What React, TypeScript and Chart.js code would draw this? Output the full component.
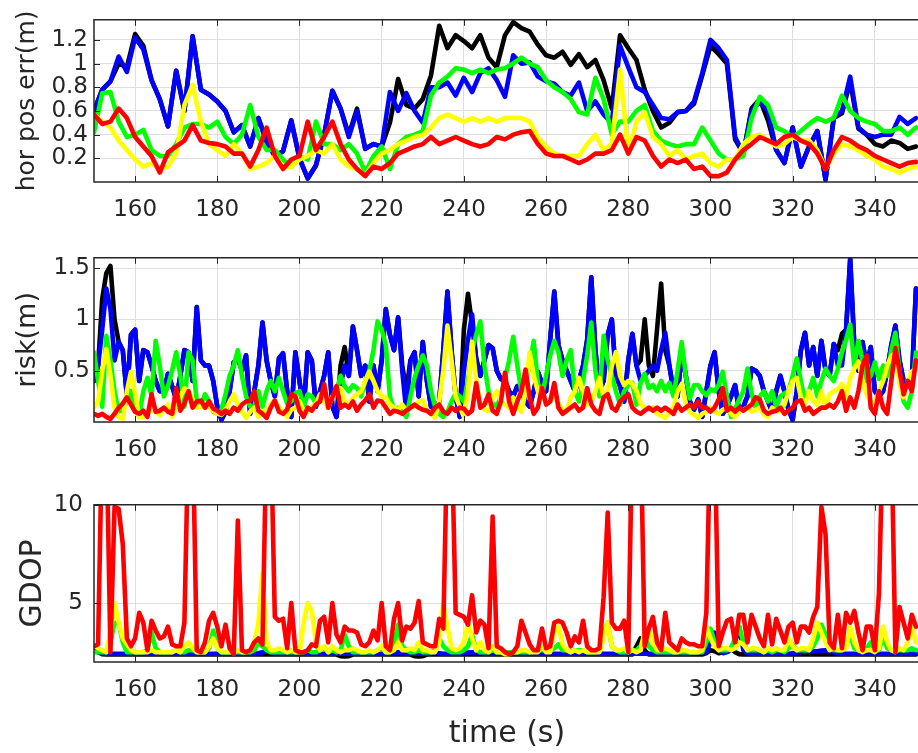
import React, { useEffect, useRef } from 'react';
import { Chart, registerables } from 'chart.js';

Chart.register(...registerables);

// ---------- categories / ticks ----------
const TIME_2S = [
  150, 152, 154, 156, 158, 160, 162, 164, 166, 168,
  170, 172, 174, 176, 178, 180, 182, 184, 186, 188,
  190, 192, 194, 196, 198, 200, 202, 204, 206, 208,
  210, 212, 214, 216, 218, 220, 222, 224, 226, 228,
  230, 232, 234, 236, 238, 240, 242, 244, 246, 248,
  250, 252, 254, 256, 258, 260, 262, 264, 266, 268,
  270, 272, 274, 276, 278, 280, 282, 284, 286, 288,
  290, 292, 294, 296, 298, 300, 302, 304, 306, 308,
  310, 312, 314, 316, 318, 320, 322, 324, 326, 328,
  330, 332, 334, 336, 338, 340, 342, 344, 346, 348,
  350,
];

const TIME_1S = [
  150, 151, 152, 153, 154, 155, 156, 157, 158, 159,
  160, 161, 162, 163, 164, 165, 166, 167, 168, 169,
  170, 171, 172, 173, 174, 175, 176, 177, 178, 179,
  180, 181, 182, 183, 184, 185, 186, 187, 188, 189,
  190, 191, 192, 193, 194, 195, 196, 197, 198, 199,
  200, 201, 202, 203, 204, 205, 206, 207, 208, 209,
  210, 211, 212, 213, 214, 215, 216, 217, 218, 219,
  220, 221, 222, 223, 224, 225, 226, 227, 228, 229,
  230, 231, 232, 233, 234, 235, 236, 237, 238, 239,
  240, 241, 242, 243, 244, 245, 246, 247, 248, 249,
  250, 251, 252, 253, 254, 255, 256, 257, 258, 259,
  260, 261, 262, 263, 264, 265, 266, 267, 268, 269,
  270, 271, 272, 273, 274, 275, 276, 277, 278, 279,
  280, 281, 282, 283, 284, 285, 286, 287, 288, 289,
  290, 291, 292, 293, 294, 295, 296, 297, 298, 299,
  300, 301, 302, 303, 304, 305, 306, 307, 308, 309,
  310, 311, 312, 313, 314, 315, 316, 317, 318, 319,
  320, 321, 322, 323, 324, 325, 326, 327, 328, 329,
  330, 331, 332, 333, 334, 335, 336, 337, 338, 339,
  340, 341, 342, 343, 344, 345, 346, 347, 348, 349,
  350,
];

const X_TICKS = [160, 180, 200, 220, 240, 260, 280, 300, 320, 340];
const X_TICK_LABELS = ['160', '180', '200', '220', '240', '260', '280', '300', '320', '340'];
const POS_TICKS = [0.2, 0.4, 0.6, 0.8, 1, 1.2];
const POS_TICK_LABELS = ['0.2', '0.4', '0.6', '0.8', '1', '1.2'];
const RISK_TICKS = [0.5, 1, 1.5];
const RISK_TICK_LABELS = ['0.5', '1', '1.5'];
const GDOP_TICKS = [5, 10];
const GDOP_TICK_LABELS = ['5', '10'];

// ---------- horizontal position error (m), every 2 s ----------
const POS_BLACK = [
  0.60, 0.78, 0.85, 1.00, 0.97, 1.25, 1.15, 0.86, 0.70, 0.47,
  0.94, 0.60, 1.23, 0.78, 0.74, 0.68, 0.60, 0.42, 0.48, 0.30,
  0.54, 0.35, 0.22, 0.26, 0.52, 0.20, 0.03, 0.14, 0.40, 0.77,
  0.62, 0.40, 0.62, 0.28, 0.32, 0.30, 0.50, 0.87, 0.65, 0.62,
  0.70, 0.90, 1.32, 1.13, 1.24, 1.19, 1.13, 1.24, 1.05, 0.97,
  1.24, 1.35, 1.30, 1.27, 1.16, 1.07, 1.05, 1.10, 0.99, 1.08,
  0.97, 1.03, 0.86, 0.62, 1.24, 1.13, 1.03, 0.78, 0.60, 0.46,
  0.50, 0.59, 0.60, 0.66, 0.90, 1.15, 1.08, 1.00, 0.36, 0.24,
  0.62, 0.70, 0.52, 0.27, 0.16, 0.46, 0.13, 0.30, 0.43, 0.02,
  0.54, 0.58, 0.85, 0.45, 0.40, 0.32, 0.30, 0.35, 0.33, 0.28,
  0.30,
];
const POS_BLUE = [
  0.60, 0.78, 0.85, 1.06, 0.93, 1.22, 1.12, 0.86, 0.70, 0.47,
  0.94, 0.60, 1.23, 0.78, 0.74, 0.68, 0.60, 0.42, 0.48, 0.30,
  0.54, 0.33, 0.22, 0.26, 0.52, 0.20, 0.03, 0.14, 0.40, 0.77,
  0.62, 0.38, 0.60, 0.28, 0.32, 0.30, 0.76, 0.60, 0.75, 0.60,
  0.50, 0.80, 0.80, 0.84, 0.73, 0.88, 0.76, 0.92, 0.96, 0.86,
  0.72, 1.07, 1.00, 1.01, 0.89, 0.85, 0.83, 0.76, 0.73, 0.84,
  0.60, 0.68, 0.57, 0.50, 1.15, 0.97, 0.80, 0.76, 0.65, 0.54,
  0.53, 0.59, 0.60, 0.68, 0.92, 1.20, 1.13, 1.03, 0.38, 0.24,
  0.60, 0.68, 0.60, 0.27, 0.16, 0.46, 0.13, 0.30, 0.43, 0.02,
  0.54, 0.60, 0.89, 0.46, 0.40, 0.38, 0.40, 0.40, 0.55, 0.49,
  0.54,
];
const POS_GREEN = [
  0.42, 0.75, 0.76, 0.51, 0.38, 0.40, 0.44, 0.27, 0.22, 0.22,
  0.32, 0.46, 0.49, 0.49, 0.46, 0.51, 0.38, 0.32, 0.40, 0.65,
  0.38, 0.27, 0.27, 0.19, 0.13, 0.22, 0.19, 0.51, 0.32, 0.32,
  0.27, 0.32, 0.24, 0.08, 0.22, 0.30, 0.11, 0.32, 0.38, 0.40,
  0.43, 0.73, 0.84, 0.89, 0.96, 0.95, 0.92, 0.95, 0.92, 0.95,
  0.96, 1.00, 1.05, 1.00, 0.97, 0.86, 0.80, 0.76, 0.70, 0.59,
  0.57, 0.88, 0.70, 0.40, 0.51, 0.51, 0.60, 0.65, 0.43, 0.35,
  0.32, 0.30, 0.32, 0.32, 0.46, 0.35, 0.24, 0.19, 0.19, 0.22,
  0.54, 0.72, 0.65, 0.46, 0.43, 0.38, 0.43, 0.49, 0.54, 0.51,
  0.54, 0.73, 0.60, 0.54, 0.51, 0.49, 0.43, 0.43, 0.46, 0.40,
  0.46,
];
const POS_YELLOW = [
  0.57, 0.51, 0.46, 0.35, 0.27, 0.19, 0.13, 0.16, 0.11, 0.13,
  0.24, 0.65, 0.82, 0.51, 0.32, 0.27, 0.22, 0.32, 0.24, 0.11,
  0.13, 0.16, 0.22, 0.13, 0.13, 0.19, 0.22, 0.27, 0.24, 0.32,
  0.19, 0.13, 0.11, 0.05, 0.16, 0.24, 0.27, 0.32, 0.35, 0.38,
  0.40, 0.46, 0.54, 0.57, 0.54, 0.51, 0.54, 0.51, 0.54, 0.51,
  0.54, 0.54, 0.54, 0.51, 0.38, 0.30, 0.24, 0.22, 0.22, 0.22,
  0.32, 0.40, 0.27, 0.32, 0.95, 0.24, 0.51, 0.59, 0.38, 0.32,
  0.22, 0.27, 0.19, 0.22, 0.24, 0.16, 0.13, 0.19, 0.19, 0.32,
  0.38, 0.40, 0.35, 0.30, 0.32, 0.38, 0.35, 0.35, 0.27, 0.11,
  0.24, 0.32, 0.30, 0.27, 0.22, 0.19, 0.13, 0.11, 0.08, 0.11,
  0.13,
];
const POS_RED = [
  0.57, 0.49, 0.51, 0.62, 0.54, 0.38, 0.30, 0.22, 0.08, 0.25,
  0.30, 0.35, 0.48, 0.35, 0.33, 0.32, 0.30, 0.24, 0.24, 0.13,
  0.27, 0.46, 0.22, 0.11, 0.19, 0.22, 0.51, 0.27, 0.38, 0.51,
  0.32, 0.19, 0.11, 0.05, 0.13, 0.11, 0.16, 0.24, 0.27, 0.30,
  0.32, 0.38, 0.32, 0.35, 0.38, 0.35, 0.32, 0.30, 0.32, 0.38,
  0.36, 0.40, 0.42, 0.43, 0.32, 0.24, 0.22, 0.22, 0.19, 0.16,
  0.19, 0.24, 0.24, 0.27, 0.40, 0.24, 0.38, 0.35, 0.22, 0.13,
  0.19, 0.16, 0.19, 0.11, 0.13, 0.05, 0.05, 0.08, 0.19, 0.27,
  0.32, 0.38, 0.35, 0.32, 0.38, 0.40, 0.35, 0.32, 0.24, 0.11,
  0.27, 0.38, 0.35, 0.30, 0.27, 0.22, 0.19, 0.16, 0.13, 0.16,
  0.17,
];

// ---------- risk (m), every 1 s ----------
const RISK_BLACK = [
  0.40, 0.55, 1.20, 1.45, 1.52, 1.00, 0.78, 0.70, 0.25, 0.85,
  0.90, 0.40, 0.70, 0.68, 0.55, 0.40, 0.30, 0.30, 0.47, 0.35,
  0.22, 0.45, 0.70, 0.68, 0.40, 1.12, 0.60, 0.55, 0.55, 0.40,
  0.15, 0.02, 0.10, 0.30, 0.58, 0.62, 0.50, 0.65, 0.08, 0.30,
  0.55, 0.97, 0.60, 0.40, 0.25, 0.62, 0.67, 0.30, 0.05, 0.68,
  0.40, 0.12, 0.68, 0.60, 0.15, 0.30, 0.45, 0.68, 0.15, 0.05,
  0.55, 0.73, 0.45, 0.93, 0.70, 0.45, 0.55, 0.20, 0.55, 0.30,
  0.60, 1.10, 0.85, 0.70, 1.02, 0.55, 0.30, 0.60, 0.68, 0.25,
  0.78, 0.40, 0.15, 0.12, 0.20, 0.70, 1.27, 0.70, 0.25, 0.05,
  0.90, 1.25, 0.95, 0.62, 0.45, 0.60, 0.75, 0.72, 0.50, 0.42,
  0.40, 0.30, 0.25, 0.35, 0.30, 0.20, 0.15, 0.30, 0.49, 0.38,
  0.30, 0.80, 1.27, 0.75, 0.60, 0.50, 0.40, 0.30, 0.40, 0.55,
  0.80, 1.41, 0.70, 0.30, 0.40, 0.85, 1.00, 0.45, 0.35, 0.20,
  0.60, 0.86, 0.55, 0.60, 1.00, 0.55, 0.45, 0.90, 1.35, 0.70,
  0.55, 0.30, 0.25, 0.68, 0.45, 0.20, 0.12, 0.22, 0.05, 0.30,
  0.55, 0.68, 0.30, 0.08, 0.15, 0.25, 0.36, 0.10, 0.15, 0.25,
  0.52, 0.50, 0.45, 0.30, 0.20, 0.10, 0.30, 0.45, 0.30, 0.12,
  0.02, 0.30, 0.70, 0.87, 0.55, 0.73, 0.45, 0.79, 0.50, 0.45,
  0.76, 0.70, 0.86, 0.90, 1.59, 0.75, 0.50, 0.78, 0.55, 0.73,
  0.30, 0.25, 0.30, 0.50, 0.75, 0.94, 0.60, 0.40, 0.35, 0.40,
  1.30,
];
const RISK_BLUE = [
  0.40, 0.55, 0.90, 1.30, 1.10, 0.60, 0.78, 0.70, 0.25, 0.85,
  0.90, 0.40, 0.70, 0.68, 0.55, 0.40, 0.30, 0.30, 0.47, 0.35,
  0.22, 0.45, 0.70, 0.68, 0.40, 1.12, 0.60, 0.55, 0.55, 0.40,
  0.15, 0.02, 0.10, 0.30, 0.58, 0.62, 0.50, 0.65, 0.08, 0.30,
  0.55, 0.97, 0.60, 0.40, 0.25, 0.62, 0.67, 0.30, 0.05, 0.68,
  0.40, 0.12, 0.68, 0.60, 0.15, 0.30, 0.45, 0.68, 0.15, 0.05,
  0.35, 0.55, 0.45, 0.93, 0.70, 0.45, 0.55, 0.20, 0.55, 0.30,
  0.60, 1.10, 0.85, 0.70, 1.02, 0.50, 0.10, 0.60, 0.68, 0.25,
  0.78, 0.40, 0.15, 0.12, 0.20, 0.70, 1.27, 0.70, 0.25, 0.05,
  0.50, 0.80, 1.05, 0.60, 0.45, 0.60, 0.75, 0.72, 0.50, 0.42,
  0.40, 0.30, 0.25, 0.35, 0.30, 0.20, 0.15, 0.30, 0.49, 0.38,
  0.30, 0.80, 1.27, 0.75, 0.60, 0.50, 0.40, 0.30, 0.40, 0.55,
  0.80, 1.41, 0.70, 0.30, 0.40, 0.85, 1.00, 0.45, 0.35, 0.20,
  0.60, 0.86, 0.55, 0.40, 0.45, 0.50, 0.55, 0.50, 0.70, 0.87,
  0.55, 0.30, 0.25, 0.68, 0.45, 0.20, 0.12, 0.22, 0.05, 0.30,
  0.55, 0.68, 0.30, 0.08, 0.15, 0.25, 0.36, 0.10, 0.15, 0.25,
  0.52, 0.50, 0.45, 0.30, 0.20, 0.10, 0.30, 0.45, 0.30, 0.12,
  0.02, 0.30, 0.70, 0.87, 0.55, 0.73, 0.45, 0.79, 0.50, 0.45,
  0.76, 0.55, 0.55, 0.90, 1.59, 0.75, 0.50, 0.78, 0.55, 0.73,
  0.30, 0.25, 0.30, 0.50, 0.75, 0.94, 0.60, 0.40, 0.35, 0.40,
  1.30,
];
const RISK_GREEN = [
  0.68, 0.40, 0.15, 0.84, 0.60, 0.30, 0.10, 0.12, 0.20, 0.30,
  0.15, 0.05, 0.30, 0.43, 0.25, 0.79, 0.55, 0.25, 0.35, 0.50,
  0.68, 0.45, 0.15, 0.68, 0.60, 0.20, 0.15, 0.27, 0.20, 0.10,
  0.08, 0.12, 0.27, 0.45, 0.55, 0.70, 0.45, 0.25, 0.15, 0.15,
  0.30, 0.15, 0.30, 0.40, 0.30, 0.43, 0.30, 0.18, 0.20, 0.28,
  0.30, 0.15, 0.27, 0.25, 0.18, 0.20, 0.22, 0.14, 0.25, 0.30,
  0.45, 0.35, 0.30, 0.36, 0.33, 0.25, 0.40, 0.50, 0.70, 0.98,
  0.90, 0.75, 0.25, 0.12, 0.14, 0.10, 0.05, 0.25, 0.43, 0.55,
  0.65, 0.55, 0.30, 0.15, 0.08, 0.05, 0.10, 0.20, 0.28, 0.25,
  0.20, 0.40, 0.70, 0.85, 0.98, 0.55, 0.30, 0.18, 0.15, 0.25,
  0.42, 0.60, 0.83, 0.55, 0.30, 0.40, 0.55, 0.79, 0.38, 0.25,
  0.45, 0.65, 0.79, 0.68, 0.45, 0.60, 0.70, 0.30, 0.20, 0.40,
  0.65, 0.97, 0.50, 0.25, 0.84, 0.60, 0.45, 0.30, 0.17, 0.30,
  0.36, 0.38, 0.17, 0.38, 0.47, 0.33, 0.36, 0.30, 0.40, 0.30,
  0.38, 0.25, 0.50, 0.78, 0.45, 0.23, 0.36, 0.36, 0.30, 0.26,
  0.32, 0.30, 0.36, 0.49, 0.25, 0.05, 0.13, 0.22, 0.30, 0.52,
  0.28, 0.14, 0.25, 0.30, 0.20, 0.30, 0.15, 0.25, 0.28, 0.30,
  0.45, 0.62, 0.40, 0.20, 0.30, 0.43, 0.25, 0.40, 0.52, 0.45,
  0.40, 0.52, 0.68, 0.80, 0.95, 0.55, 0.79, 0.60, 0.40, 0.45,
  0.58, 0.42, 0.55, 0.45, 0.70, 0.87, 0.50, 0.20, 0.14, 0.30,
  0.68,
];
const RISK_YELLOW = [
  0.14, 0.20, 0.50, 0.71, 0.45, 0.14, 0.05, 0.03, 0.30, 0.49,
  0.28, 0.05, 0.05, 0.08, 0.12, 0.10, 0.07, 0.12, 0.17, 0.05,
  0.15, 0.24, 0.33, 0.30, 0.22, 0.14, 0.15, 0.18, 0.14, 0.11,
  0.08, 0.07, 0.12, 0.20, 0.27, 0.17, 0.10, 0.04, 0.10, 0.14,
  0.05, 0.10, 0.11, 0.18, 0.21, 0.14, 0.10, 0.05, 0.12, 0.14,
  0.20, 0.11, 0.10, 0.15, 0.18, 0.27, 0.20, 0.14, 0.25, 0.30,
  0.33, 0.20, 0.15, 0.24, 0.27, 0.30, 0.40, 0.49, 0.40, 0.30,
  0.25, 0.24, 0.17, 0.14, 0.12, 0.17, 0.11, 0.14, 0.15, 0.20,
  0.21, 0.11, 0.08, 0.04, 0.20, 0.50, 0.94, 0.60, 0.25, 0.15,
  0.05, 0.30, 0.78, 0.40, 0.18, 0.12, 0.11, 0.24, 0.30, 0.20,
  0.17, 0.14, 0.24, 0.17, 0.10, 0.30, 0.68, 0.45, 0.30, 0.24,
  0.21, 0.20, 0.27, 0.18, 0.12, 0.10, 0.24, 0.30, 0.43, 0.30,
  0.17, 0.20, 0.30, 0.43, 0.24, 0.30, 0.55, 0.68, 0.45, 0.36,
  0.40, 0.37, 0.30, 0.18, 0.14, 0.12, 0.14, 0.08, 0.06, 0.04,
  0.10, 0.14, 0.30, 0.37, 0.18, 0.10, 0.07, 0.04, 0.08, 0.10,
  0.14, 0.10, 0.08, 0.12, 0.14, 0.08, 0.05, 0.10, 0.12, 0.14,
  0.10, 0.12, 0.14, 0.07, 0.05, 0.14, 0.10, 0.11, 0.17, 0.30,
  0.40, 0.43, 0.24, 0.17, 0.30, 0.20, 0.17, 0.30, 0.14, 0.27,
  0.30, 0.32, 0.37, 0.24, 0.43, 0.52, 0.59, 0.40, 0.27, 0.20,
  0.18, 0.30, 0.40, 0.55, 0.64, 0.68, 0.37, 0.24, 0.40, 0.49,
  0.52,
];
const RISK_RED = [
  0.08, 0.06, 0.08, 0.05, 0.03, 0.08, 0.14, 0.18, 0.24, 0.17,
  0.10, 0.08, 0.11, 0.05, 0.27, 0.10, 0.11, 0.14, 0.10, 0.08,
  0.33, 0.11, 0.18, 0.30, 0.14, 0.20, 0.21, 0.14, 0.20, 0.13,
  0.11, 0.08, 0.11, 0.08, 0.14, 0.11, 0.17, 0.20, 0.21, 0.30,
  0.11, 0.08, 0.04, 0.14, 0.21, 0.10, 0.08, 0.12, 0.27, 0.25,
  0.11, 0.05, 0.14, 0.11, 0.17, 0.20, 0.37, 0.14, 0.24, 0.35,
  0.14, 0.17, 0.14, 0.20, 0.11, 0.17, 0.21, 0.27, 0.14, 0.21,
  0.20, 0.14, 0.08, 0.11, 0.10, 0.08, 0.11, 0.14, 0.17, 0.14,
  0.12, 0.11, 0.08, 0.14, 0.17, 0.10, 0.08, 0.14, 0.11, 0.14,
  0.13, 0.08, 0.11, 0.38, 0.14, 0.17, 0.27, 0.11, 0.08, 0.20,
  0.48, 0.20, 0.08, 0.20, 0.30, 0.51, 0.24, 0.08, 0.14, 0.33,
  0.17, 0.20, 0.38, 0.14, 0.08, 0.11, 0.14, 0.17, 0.11, 0.14,
  0.33, 0.17, 0.11, 0.08, 0.24, 0.27, 0.14, 0.11, 0.20, 0.24,
  0.27, 0.14, 0.10, 0.08, 0.11, 0.14, 0.11, 0.14, 0.11, 0.14,
  0.11, 0.08, 0.17, 0.11, 0.14, 0.17, 0.14, 0.20, 0.14, 0.14,
  0.10, 0.14, 0.22, 0.33, 0.11, 0.14, 0.10, 0.14, 0.11, 0.14,
  0.17, 0.24, 0.22, 0.11, 0.08, 0.10, 0.11, 0.14, 0.08, 0.11,
  0.14, 0.20, 0.21, 0.11, 0.14, 0.08, 0.11, 0.14, 0.14, 0.17,
  0.14, 0.20, 0.30, 0.11, 0.24, 0.14, 0.30, 0.55, 0.65, 0.14,
  0.08, 0.30, 0.14, 0.08, 0.40, 0.72, 0.50, 0.27, 0.40, 0.30,
  0.60,
];

// ---------- GDOP, every 1 s ----------
const GDOP_BLACK = [
  2.55, 2.50, 2.40, 2.38, 2.38, 2.38, 2.38, 2.38, 2.38, 2.38,
  2.38, 2.38, 2.38, 2.38, 2.38, 2.38, 2.38, 2.38, 2.38, 2.38,
  2.38, 2.38, 2.38, 2.38, 2.38, 2.38, 2.38, 2.38, 2.38, 2.38,
  2.38, 2.38, 2.38, 2.38, 2.38, 2.38, 2.38, 2.38, 2.38, 2.38,
  2.38, 2.38, 2.38, 2.38, 2.38, 2.38, 2.38, 2.38, 2.38, 2.38,
  2.38, 2.38, 2.38, 2.38, 2.38, 2.38, 2.38, 2.38, 2.38, 2.38,
  2.30, 2.28, 2.30, 2.38, 2.38, 2.38, 2.38, 2.38, 2.38, 2.38,
  2.38, 2.38, 2.38, 2.38, 2.38, 2.38, 2.38, 2.38, 2.30, 2.28,
  2.30, 2.38, 2.38, 2.38, 2.38, 2.38, 2.38, 2.38, 2.38, 2.38,
  2.38, 2.38, 2.38, 2.38, 2.38, 2.38, 2.38, 2.38, 2.38, 2.38,
  2.38, 2.38, 2.38, 2.38, 2.38, 2.38, 2.38, 2.38, 2.38, 2.38,
  2.38, 2.38, 2.38, 2.38, 2.38, 2.38, 2.38, 2.38, 2.38, 2.38,
  2.38, 2.38, 2.38, 2.38, 2.38, 2.38, 2.38, 2.38, 2.38, 2.38,
  2.38, 2.38, 2.80, 3.20, 2.60, 2.38, 2.38, 2.38, 2.38, 2.38,
  2.38, 2.38, 2.38, 2.38, 2.38, 2.38, 2.38, 2.38, 2.38, 2.45,
  2.60, 2.55, 2.45, 2.50, 2.55, 2.70, 2.50, 2.40, 2.38, 2.38,
  2.38, 2.38, 2.38, 2.38, 2.38, 2.38, 2.38, 2.38, 2.38, 2.38,
  2.38, 2.38, 2.38, 2.38, 2.38, 2.38, 2.38, 2.38, 2.38, 2.38,
  2.38, 2.38, 2.38, 2.38, 2.38, 2.38, 2.38, 2.38, 2.38, 2.38,
  2.38, 2.38, 2.38, 2.38, 2.38, 2.38, 2.38, 2.38, 2.38, 2.38,
  2.38,
];
const GDOP_BLUE = [
  2.60, 2.55, 2.45, 2.42, 2.42, 2.42, 2.42, 2.42, 2.42, 2.42,
  2.42, 2.42, 2.42, 2.42, 2.42, 2.42, 2.42, 2.42, 2.42, 2.42,
  2.42, 2.42, 2.42, 2.42, 2.42, 2.42, 2.42, 2.42, 2.42, 2.42,
  2.42, 2.42, 2.42, 2.42, 2.42, 2.42, 2.42, 2.42, 2.42, 2.42,
  2.45, 2.50, 2.55, 2.50, 2.45, 2.42, 2.42, 2.42, 2.42, 2.42,
  2.42, 2.42, 2.42, 2.42, 2.42, 2.42, 2.42, 2.42, 2.42, 2.42,
  2.42, 2.42, 2.42, 2.42, 2.42, 2.42, 2.42, 2.42, 2.42, 2.42,
  2.42, 2.42, 2.42, 2.45, 2.50, 2.45, 2.42, 2.42, 2.42, 2.42,
  2.42, 2.42, 2.45, 2.48, 2.45, 2.42, 2.42, 2.42, 2.42, 2.42,
  2.45, 2.48, 2.50, 2.48, 2.45, 2.45, 2.45, 2.42, 2.42, 2.42,
  2.42, 2.42, 2.42, 2.42, 2.42, 2.42, 2.42, 2.42, 2.42, 2.42,
  2.42, 2.42, 2.42, 2.42, 2.42, 2.42, 2.42, 2.42, 2.42, 2.42,
  2.42, 2.42, 2.42, 2.42, 2.42, 2.42, 2.42, 2.42, 2.42, 2.42,
  2.42, 2.42, 2.42, 2.42, 2.42, 2.42, 2.42, 2.42, 2.42, 2.42,
  2.42, 2.42, 2.42, 2.42, 2.42, 2.42, 2.45, 2.48, 2.48, 2.50,
  3.00, 3.50, 2.60, 2.45, 2.50, 2.60, 3.00, 3.80, 2.60, 2.45,
  2.42, 2.42, 2.42, 2.42, 2.42, 2.42, 2.42, 2.42, 2.42, 2.42,
  2.45, 2.48, 2.50, 2.52, 2.55, 2.55, 2.55, 2.58, 2.60, 2.55,
  2.50, 2.45, 2.42, 2.42, 2.42, 2.42, 2.42, 2.42, 2.42, 2.42,
  2.42, 2.42, 2.42, 2.42, 2.42, 2.42, 2.42, 2.42, 2.42, 2.42,
  2.42,
];
const GDOP_GREEN = [
  2.5, 2.5, 2.5, 2.5, 3.0, 4.0, 4.0, 3.0, 2.5, 2.5,
  2.5, 2.5, 2.5, 2.6, 3.5, 2.7, 2.5, 2.5, 2.5, 2.5,
  2.6, 2.5, 2.5, 2.6, 2.6, 2.5, 2.5, 2.5, 2.7, 3.6,
  2.7, 2.5, 2.5, 2.5, 2.5, 2.5, 2.5, 2.5, 2.5, 2.6,
  3.0, 2.8, 2.6, 2.5, 2.5, 2.5, 2.5, 2.5, 2.5, 2.5,
  2.5, 2.5, 2.6, 2.5, 2.5, 2.6, 2.7, 2.5, 2.6, 2.5,
  2.6, 3.4, 2.8, 2.5, 2.5, 2.5, 2.5, 2.5, 2.5, 2.6,
  2.7, 2.5, 2.5, 2.8, 3.9, 2.8, 2.6, 2.5, 2.5, 2.6,
  2.5, 2.5, 2.5, 2.6, 3.2, 2.8, 2.6, 2.5, 2.5, 2.5,
  2.6, 2.8, 3.4, 2.6, 2.5, 2.5, 2.5, 2.6, 2.5, 2.5,
  2.5, 2.5, 2.5, 2.5, 2.5, 2.5, 2.5, 2.6, 2.6, 2.6,
  2.6, 2.6, 2.7, 2.9, 2.6, 2.6, 2.5, 2.6, 2.6, 2.6,
  2.5, 2.5, 2.5, 2.6, 3.5, 4.0, 2.8, 2.6, 2.5, 2.5,
  2.5, 2.6, 2.6, 2.8, 3.3, 2.8, 2.6, 2.5, 2.5, 2.5,
  2.5, 2.5, 2.5, 2.5, 2.5, 2.5, 2.5, 2.5, 2.5, 3.0,
  3.7, 3.0, 2.6, 2.6, 2.6, 2.7, 3.2, 3.8, 3.0, 2.6,
  2.6, 2.6, 2.6, 2.5, 2.6, 2.5, 2.6, 2.6, 2.5, 2.7,
  2.9, 2.6, 2.6, 2.6, 2.6, 2.8, 3.2, 3.9, 3.4, 2.7,
  2.6, 2.6, 2.6, 2.8, 3.4, 2.7, 2.6, 2.6, 2.7, 3.0,
  2.6, 2.6, 3.3, 2.7, 2.6, 2.6, 2.6, 2.6, 2.6, 2.7,
  2.6,
];
const GDOP_YELLOW = [
  2.8, 2.7, 2.6, 2.5, 3.5, 5.0, 4.0, 3.2, 2.9, 2.6,
  2.5, 2.5, 2.5, 2.5, 2.6, 2.5, 2.5, 2.5, 2.5, 2.5,
  2.6, 2.5, 2.8, 3.0, 2.7, 2.5, 2.5, 2.5, 2.8, 3.2,
  2.7, 2.5, 2.5, 2.5, 2.5, 2.6, 2.5, 2.5, 2.6, 3.0,
  4.0, 6.5, 3.0, 2.6, 2.6, 2.7, 2.6, 2.5, 2.6, 2.5,
  2.5, 4.0, 5.0, 4.6, 3.0, 2.6, 2.8, 2.5, 2.8, 2.6,
  2.5, 2.6, 2.6, 2.7, 2.6, 2.5, 2.5, 2.6, 2.5, 2.6,
  2.8, 2.5, 2.5, 2.6, 3.0, 2.6, 2.6, 2.7, 2.6, 3.0,
  2.6, 2.6, 2.5, 2.5, 3.0, 5.0, 3.8, 2.7, 2.6, 2.7,
  3.0, 4.0, 3.2, 2.6, 3.0, 2.6, 2.5, 2.8, 2.5, 2.5,
  2.4, 2.4, 2.5, 2.5, 2.6, 2.6, 2.5, 2.5, 2.5, 2.8,
  2.5, 2.5, 3.5, 3.8, 2.9, 2.6, 2.5, 2.6, 2.5, 2.6,
  2.5, 2.5, 2.5, 2.5, 3.2, 4.0, 2.8, 2.6, 2.6, 2.7,
  2.5, 2.6, 2.5, 2.6, 3.6, 3.8, 3.0, 2.6, 2.6, 2.7,
  2.6, 2.5, 2.5, 2.6, 2.6, 2.5, 2.5, 2.5, 2.6, 3.8,
  3.2, 2.8, 2.6, 2.7, 2.7, 2.6, 2.7, 3.0, 2.9, 2.6,
  2.7, 2.7, 2.6, 2.5, 2.7, 2.6, 2.7, 2.6, 2.6, 3.2,
  2.8, 2.6, 2.7, 2.7, 2.6, 3.2, 4.0, 3.5, 3.0, 2.6,
  2.7, 2.6, 2.6, 2.7, 3.8, 3.0, 2.6, 2.5, 2.6, 2.6,
  2.5, 2.7, 3.8, 3.0, 2.6, 2.5, 2.7, 2.6, 3.0, 3.8,
  3.0,
];
const GDOP_RED = [
  2.8, 2.9, 14, 14, 2.5, 9.9, 9.8, 8.0, 3.2, 2.8,
  3.2, 4.5, 4.0, 2.6, 4.1, 3.6, 3.2, 3.3, 3.8, 2.9,
  2.8, 2.8, 4.0, 14, 14, 2.6, 2.5, 3.0, 4.1, 4.5,
  3.8, 2.8, 3.9, 2.7, 2.4, 9.2, 2.6, 2.5, 2.6, 3.0,
  3.2, 2.9, 14, 14, 4.3, 4.1, 4.2, 2.7, 5.0, 2.6,
  2.5, 2.5, 2.6, 2.9, 2.8, 4.1, 4.3, 3.0, 5.0, 3.4,
  3.0, 3.8, 3.6, 3.6, 3.5, 2.9, 2.8, 3.0, 3.6, 3.1,
  5.0, 2.8, 2.6, 4.2, 5.0, 3.1, 3.8, 3.7, 4.0, 5.1,
  3.0, 2.9, 2.8, 2.8, 4.2, 3.7, 14, 14, 4.5, 4.4,
  4.3, 3.9, 5.4, 3.5, 4.1, 3.9, 2.7, 9.4, 2.8, 2.7,
  2.5, 2.4, 2.5, 2.8, 4.1, 3.5, 2.9, 2.6, 2.6, 3.7,
  2.7, 2.8, 4.0, 4.1, 4.0, 3.5, 2.8, 3.3, 3.0, 4.1,
  2.8, 2.6, 2.6, 2.7, 5.3, 9.6, 4.0, 3.7, 3.7, 4.1,
  2.5, 14, 14, 14, 2.8, 3.7, 4.3, 3.0, 2.6, 4.5,
  3.0, 2.8, 2.6, 3.2, 3.0, 2.9, 2.9, 2.8, 2.8, 4.5,
  14, 14, 2.8, 3.5, 4.1, 4.2, 3.0, 4.4, 4.4, 3.0,
  4.4, 3.8, 3.2, 2.8, 4.4, 2.9, 4.2, 3.6, 3.0, 3.8,
  4.0, 3.0, 3.8, 3.8, 3.5, 4.3, 4.8, 9.9, 8.5, 3.0,
  2.7, 4.4, 2.7, 4.5, 4.0, 4.6, 3.5, 2.6, 3.8, 3.8,
  2.6, 5.5, 14, 14, 14, 2.5, 4.8, 4.0, 3.2, 4.4,
  3.8,
];

// ---------- styling ----------
const W = 918;
const X_MIN = 150;
const X_MAX = 350.5;
const FONT = "'DejaVu Sans', 'Liberation Sans', sans-serif";
const TXT = '#262626';
const GRID = '#dedede';
const AXIS = '#262626';
const LINE_W = 4.6;
const C_BLACK = '#000000';
const C_BLUE = '#0000ff';
const C_GREEN = '#00ff00';
const C_YELLOW = '#ffff00';
const C_RED = '#ff0000';

type Series = { name: string; color: string; values: number[] };
type PanelCfg = {
  top: number;
  height: number;
  padTop: number;
  xAxisH: number;
  yMin: number;
  yMax: number;
  yTicks: number[];
  yTickLabels: string[];
  yTickPad: number;
  title: string;
  titleSize: number;
  titleX: number;
  xTitle?: string;
  time: number[];
  series: Series[];
};

// first dataset is drawn on top in Chart.js -> red first, black last
const PANELS: PanelCfg[] = [
  {
    top: 0, height: 240, padTop: 13, xAxisH: 58,
    yMin: 0, yMax: 1.37, yTicks: POS_TICKS, yTickLabels: POS_TICK_LABELS, yTickPad: 6,
    title: 'hor pos err(m)', titleSize: 25, titleX: 34,
    time: TIME_2S,
    series: [
      { name: 'red', color: C_RED, values: POS_RED },
      { name: 'yellow', color: C_YELLOW, values: POS_YELLOW },
      { name: 'green', color: C_GREEN, values: POS_GREEN },
      { name: 'blue', color: C_BLUE, values: POS_BLUE },
      { name: 'black', color: C_BLACK, values: POS_BLACK },
    ],
  },
  {
    top: 240, height: 240, padTop: 14, xAxisH: 58,
    yMin: 0, yMax: 1.6, yTicks: RISK_TICKS, yTickLabels: RISK_TICK_LABELS, yTickPad: 4,
    title: 'risk(m)', titleSize: 27, titleX: 35,
    time: TIME_1S,
    series: [
      { name: 'red', color: C_RED, values: RISK_RED },
      { name: 'yellow', color: C_YELLOW, values: RISK_YELLOW },
      { name: 'green', color: C_GREEN, values: RISK_GREEN },
      { name: 'blue', color: C_BLUE, values: RISK_BLUE },
      { name: 'black', color: C_BLACK, values: RISK_BLACK },
    ],
  },
  {
    top: 480, height: 273, padTop: 16, xAxisH: 91,
    yMin: 2, yMax: 10, yTicks: GDOP_TICKS, yTickLabels: GDOP_TICK_LABELS, yTickPad: 11,
    title: 'GDOP', titleSize: 30, titleX: 41, xTitle: 'time (s)',
    time: TIME_1S,
    series: [
      { name: 'red', color: C_RED, values: GDOP_RED },
      { name: 'yellow', color: C_YELLOW, values: GDOP_YELLOW },
      { name: 'green', color: C_GREEN, values: GDOP_GREEN },
      { name: 'blue', color: C_BLUE, values: GDOP_BLUE },
      { name: 'black', color: C_BLACK, values: GDOP_BLACK },
    ],
  },
];

function framePlugin(p: PanelCfg) {
  return {
    id: 'frame',
    afterDatasetsDraw(chart: any) {
      const { ctx, chartArea: a, scales } = chart;
      ctx.save();
      // axes box (right side lies outside the picture)
      ctx.strokeStyle = AXIS;
      ctx.lineWidth = 1.5;
      ctx.beginPath();
      ctx.moveTo(a.right + 4, a.top);
      ctx.lineTo(a.left, a.top);
      ctx.lineTo(a.left, a.bottom);
      ctx.lineTo(a.right + 4, a.bottom);
      ctx.stroke();
      // inward tick marks
      ctx.lineWidth = 1;
      ctx.beginPath();
      for (const v of X_TICKS) {
        const x = Math.round(scales.x.getPixelForValue(v)) + 0.5;
        ctx.moveTo(x, a.bottom);
        ctx.lineTo(x, a.bottom - 6);
        ctx.moveTo(x, a.top);
        ctx.lineTo(x, a.top + 6);
      }
      for (const v of p.yTicks) {
        const y = Math.round(scales.y.getPixelForValue(v)) + 0.5;
        ctx.moveTo(a.left, y);
        ctx.lineTo(a.left + 6, y);
      }
      ctx.stroke();
      ctx.restore();
    },
    afterDraw(chart: any) {
      const { ctx, chartArea: a } = chart;
      ctx.save();
      ctx.fillStyle = TXT;
      ctx.font = `${p.titleSize}px ${FONT}`;
      ctx.textAlign = 'center';
      ctx.textBaseline = 'alphabetic';
      ctx.translate(p.titleX, (a.top + a.bottom) / 2);
      ctx.rotate(-Math.PI / 2);
      ctx.fillText(p.title, 0, 0);
      ctx.restore();
      if (p.xTitle) {
        ctx.save();
        ctx.fillStyle = TXT;
        ctx.font = `30px ${FONT}`;
        ctx.textAlign = 'center';
        ctx.textBaseline = 'alphabetic';
        ctx.fillText(p.xTitle, 507, 262);
        ctx.restore();
      }
    },
  };
}

function buildConfig(p: PanelCfg): any {
  const datasets = p.series.map((s) => ({
    label: s.name,
    data: p.time.map((t, i) => ({ x: t, y: s.values[i] })),
    borderColor: s.color,
    backgroundColor: s.color,
    borderWidth: LINE_W,
    pointRadius: 0,
    pointHoverRadius: 0,
    tension: 0,
    fill: false,
    clip: 0,
    borderJoinStyle: 'round',
    borderCapStyle: 'round',
  }));
  return {
    type: 'line',
    data: { datasets },
    options: {
      animation: false,
      responsive: false,
      maintainAspectRatio: false,
      events: [],
      layout: { padding: { top: p.padTop, left: 0, right: 0, bottom: 0 } },
      plugins: { legend: { display: false }, tooltip: { enabled: false } },
      scales: {
        x: {
          type: 'linear',
          min: X_MIN,
          max: X_MAX,
          afterBuildTicks: (ax: any) => {
            ax.ticks = X_TICKS.map((v) => ({ value: v }));
          },
          afterFit: (ax: any) => {
            ax.height = p.xAxisH;
          },
          grid: { color: GRID, lineWidth: 1, drawTicks: false },
          border: { display: false },
          ticks: {
            autoSkip: false,
            maxRotation: 0,
            minRotation: 0,
            padding: 14,
            color: TXT,
            font: { family: FONT, size: 23 },
            callback: (_v: any, i: number) => X_TICK_LABELS[i],
          },
        },
        y: {
          type: 'linear',
          min: p.yMin,
          max: p.yMax,
          afterBuildTicks: (ax: any) => {
            ax.ticks = p.yTicks.map((v) => ({ value: v }));
          },
          afterFit: (ax: any) => {
            ax.width = 94;
          },
          grid: { color: GRID, lineWidth: 1, drawTicks: false },
          border: { display: false },
          ticks: {
            autoSkip: false,
            padding: p.yTickPad,
            color: TXT,
            font: { family: FONT, size: 23 },
            callback: (_v: any, i: number) => p.yTickLabels[i],
          },
        },
      },
    },
    plugins: [framePlugin(p)],
  };
}

function Panel({ cfg }: { cfg: PanelCfg }) {
  const ref = useRef<HTMLCanvasElement | null>(null);
  useEffect(() => {
    if (!ref.current) return;
    const chart = new Chart(ref.current, buildConfig(cfg));
    return () => chart.destroy();
  }, [cfg]);
  return (
    <canvas
      ref={ref}
      width={W}
      height={cfg.height}
      style={{ position: 'absolute', left: 0, top: cfg.top, width: W, height: cfg.height, display: 'block' }}
    />
  );
}

export default function App() {
  return (
    <div
      style={{
        position: 'fixed',
        left: 0,
        top: 0,
        width: W,
        height: 753,
        background: '#ffffff',
        overflow: 'hidden',
      }}
    >
      {PANELS.map((p, i) => (
        <Panel key={i} cfg={p} />
      ))}
    </div>
  );
}
